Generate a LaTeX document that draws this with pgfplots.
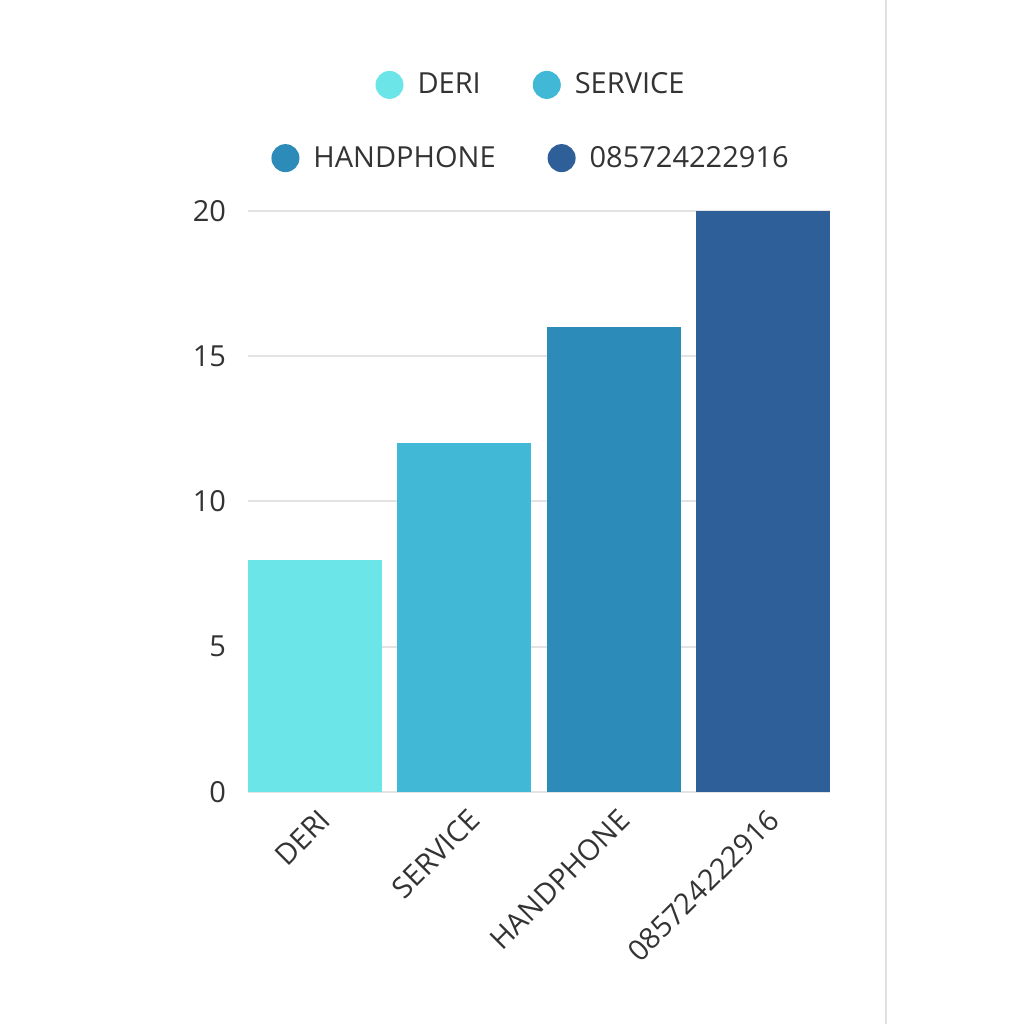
\documentclass[border=0pt]{standalone}
\usepackage{fontspec}
\setmainfont{Open Sans}
\usepackage{pgfplots}
\pgfplotsset{compat=1.18}

\definecolor{cderi}{HTML}{6CE5E8}
\definecolor{cservice}{HTML}{41B8D5}
\definecolor{chandphone}{HTML}{2D8BBA}
\definecolor{cnumber}{HTML}{2F5F98}
\definecolor{textgray}{HTML}{333333}
\definecolor{gridgray}{HTML}{E3E3E3}

\pgfplotsset{
  base/.style={
    at={(124pt,116pt)}, anchor=south west,
    scale only axis, width=291pt, height=290.5pt,
    xmin=-0.448, xmax=3.448, ymin=0, ymax=20,
    axis line style={draw=none},
    tick style={draw=none},
    legend image code/.code={\fill[##1] (0pt,0pt) circle (7pt); \path (12pt,0pt);},
    legend style={draw=none, fill=none, legend columns=2,
      font=\fontsize{14.5}{17}\selectfont\color{textgray},
      /tikz/every even column/.append style={column sep=24pt},
      anchor=center},
  },
}

\begin{document}
\begin{tikzpicture}
\path[use as bounding box] (0pt,0pt) rectangle (512pt,512pt);
\draw[black!12, line width=1pt] (443pt,0pt) -- (443pt,512pt);

% top legend row
\begin{axis}[base, hide axis,
  legend style={at={(0.488,1.217)}}]
\addlegendimage{fill=cderi, draw=none}
\addlegendentry{DERI}
\addlegendimage{fill=cservice, draw=none}
\addlegendentry{SERVICE}
\end{axis}

\begin{axis}[base,
  legend style={at={(0.488,1.091)}},
  ytick={0,5,10,15,20},
  ymajorgrids,
  grid style={gridgray, line width=1pt},
  xtick={0,1,2,3},
  xticklabels={DERI,SERVICE,HANDPHONE,085724222916},
  /pgf/number format/assume math mode=true,
  ticklabel style={font=\fontsize{14.5}{17}\selectfont, text=textgray},
  yticklabel style={xshift=-7.5pt},
  xticklabel style={rotate=45, anchor=north east, xshift=-1pt, yshift=-3pt},
]
\addplot[ybar, bar shift=0pt, bar width=0.896, fill=cderi, draw=none, forget plot]
  coordinates {(0,8)};
\addplot[ybar, bar shift=0pt, bar width=0.896, fill=cservice, draw=none, forget plot]
  coordinates {(1,12)};
\addplot[ybar, bar shift=0pt, bar width=0.896, fill=chandphone, draw=none, forget plot]
  coordinates {(2,16)};
\addplot[ybar, bar shift=0pt, bar width=0.896, fill=cnumber, draw=none, forget plot]
  coordinates {(3,20)};
\addlegendimage{fill=chandphone, draw=none}
\addlegendentry{HANDPHONE}
\addlegendimage{fill=cnumber, draw=none}
\addlegendentry{085724222916}
\end{axis}
\end{tikzpicture}
\end{document}
